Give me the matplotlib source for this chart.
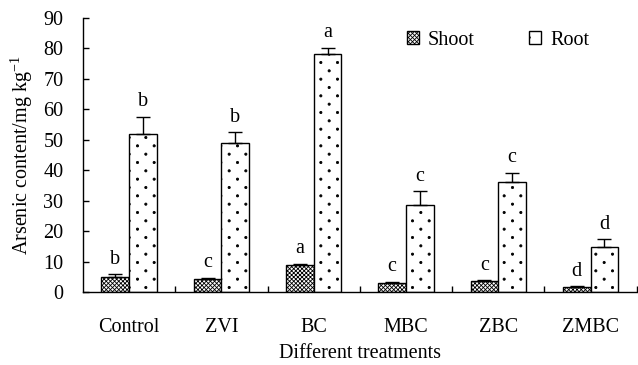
import matplotlib
matplotlib.use("Agg")
import matplotlib.pyplot as plt
import matplotlib.hatch as mhatch
from matplotlib.path import Path
import numpy as np

plt.rcParams['font.family'] = ['Liberation Serif', 'DejaVu Serif']
plt.rcParams['hatch.linewidth'] = 0.6
plt.rcParams['mathtext.fontset'] = 'custom'
plt.rcParams['mathtext.rm'] = 'Liberation Serif'


# sparse staggered dot pattern for '.' hatch (style only)
class SparseDots(mhatch.HatchPatternBase):
    nrows = 12
    ncols = 6
    radius = 0.011

    def __init__(self, hatch, density):
        self.on = hatch.count('.') > 0
        circ = Path.unit_circle()
        self.cv = circ.vertices
        self.cc = circ.codes
        self.num_vertices = (self.nrows * self.ncols * len(self.cv)) if self.on else 0

    def set_vertices_and_codes(self, vertices, codes):
        vparts, cparts = [], []
        for r in range(self.nrows):
            y = (r + 0.5) / self.nrows
            for c in range(self.ncols):
                xx = (c + 0.25 + 0.5 * (r % 2)) / self.ncols
                vparts.append(self.cv * self.radius + [xx, y])
                cparts.append(self.cc)
        np.concatenate(vparts, out=vertices)
        np.concatenate(cparts, out=codes)


mhatch._hatch_types[:] = [SparseDots if t is mhatch.SmallFilledCircles else t
                          for t in mhatch._hatch_types]

categories = ["Control", "ZVI", "BC", "MBC", "ZBC", "ZMBC"]
shoot = [4.8, 4.2, 8.9, 3.1, 3.7, 1.5]
shoot_err = [1.0, 0.5, 0.3, 0.2, 0.2, 0.4]
root = [51.9, 49.0, 78.2, 28.6, 36.0, 14.9]
root_err = [5.6, 3.4, 2.0, 4.4, 3.2, 2.4]
shoot_letters = ["b", "c", "a", "c", "c", "d"]
root_letters = ["b", "b", "a", "c", "c", "d"]

FS = 14.5
fig = plt.figure(figsize=(6.38, 3.65), dpi=100)
ax = fig.add_axes([0.130, 0.200, 0.868, 0.751])

x = np.arange(len(categories))
w = 0.3
ax.bar(x - w/2, shoot, w, color='white', edgecolor='black', hatch='xxxxxxxx',
       linewidth=1.0, label='Shoot')
ax.bar(x + w/2, root, w, color='white', edgecolor='black', hatch='.',
       linewidth=1.0, label='Root')
ax.errorbar(x - w/2, shoot, yerr=[np.zeros(len(shoot)), shoot_err], fmt='none',
            ecolor='black', elinewidth=1.0, capsize=4.7, capthick=1.0)
ax.errorbar(x + w/2, root, yerr=[np.zeros(len(root)), root_err], fmt='none',
            ecolor='black', elinewidth=1.0, capsize=4.7, capthick=1.0)

for xi, v, e, t in zip(x - w/2, shoot, shoot_err, shoot_letters):
    ax.text(xi, v + e + 1.8, t, ha='center', va='bottom', fontsize=FS)
for xi, v, e, t in zip(x + w/2, root, root_err, root_letters):
    ax.text(xi, v + e + 1.8, t, ha='center', va='bottom', fontsize=FS)

ax.set_xlim(-0.5, len(categories) - 0.5)
ax.set_ylim(0, 90)
ax.set_yticks(np.arange(0, 91, 10))
ax.set_xticks(x)
ax.set_xticklabels(categories, fontsize=FS)
ax.set_xticks(np.arange(0.5, len(categories), 1), minor=True)
ax.tick_params(axis='x', which='major', length=0, pad=19)
ax.tick_params(axis='x', which='minor', direction='in', length=4.5, width=1.0)
ax.tick_params(axis='y', direction='in', length=4.5, width=1.0, labelsize=FS, pad=14)
ax.spines['top'].set_visible(False)
ax.spines['right'].set_visible(False)
ax.spines['left'].set_linewidth(1.0)
ax.spines['bottom'].set_linewidth(1.0)

ax.set_ylabel("Arsenic content/mg kg$^{\\mathregular{-1}}$", fontsize=FS, labelpad=6)
ax.set_xlabel("Different treatments", fontsize=FS, labelpad=5)

leg = fig.legend(loc='center left', bbox_to_anchor=(0.609, 0.89), ncol=2, frameon=False,
                 fontsize=FS, handlelength=0.6, handleheight=0.6, handletextpad=0.45,
                 columnspacing=2.7)

fig.savefig("out.png", dpi=100)
